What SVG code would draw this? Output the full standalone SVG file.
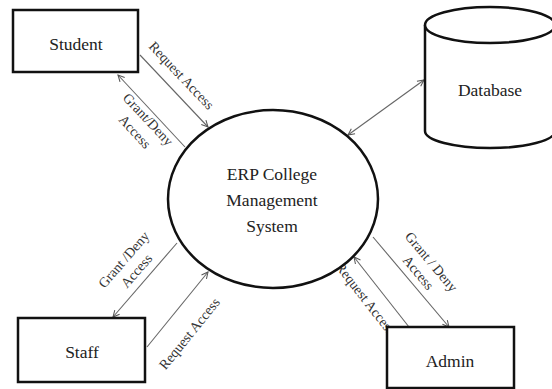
<svg xmlns="http://www.w3.org/2000/svg" width="552" height="389" viewBox="0 0 552 389" font-family="'Liberation Serif', 'Times New Roman', Tinos, 'DejaVu Serif', serif">
<style>
text{font-family:"Liberation Serif","Times New Roman",Tinos,"DejaVu Serif",serif}
.box{fill:#fff;stroke:#111;stroke-width:2.5}
.lbl{font-size:17.5px;fill:#222;text-anchor:middle}
.flow{font-size:14px;fill:#333;text-anchor:middle}
.conn{stroke:#666;stroke-width:1.1;fill:none}
</style>
<defs>
<marker id="arr" viewBox="0 0 10 10" refX="9" refY="5" markerWidth="8" markerHeight="8" markerUnits="userSpaceOnUse" orient="auto-start-reverse">
<path d="M1,1 L9,5 L1,9" fill="none" stroke="#555" stroke-width="1.3"/>
</marker>
</defs>
<rect width="552" height="389" fill="#fff"/>
<g id="connectors">
<line class="conn" x1="140" y1="55" x2="208" y2="127" marker-end="url(#arr)"/>
<line class="conn" x1="185" y1="147" x2="118" y2="75" marker-end="url(#arr)"/>
<line class="conn" x1="348" y1="135" x2="424" y2="80" marker-start="url(#arr)" marker-end="url(#arr)"/>
<line class="conn" x1="177" y1="243" x2="113" y2="317" marker-end="url(#arr)"/>
<line class="conn" x1="147" y1="347" x2="208" y2="272" marker-end="url(#arr)"/>
<line class="conn" x1="373" y1="237" x2="449" y2="327" marker-end="url(#arr)"/>
<line class="conn" x1="409" y1="327" x2="354" y2="257" marker-end="url(#arr)"/>
<text class="flow" transform="translate(181,76) rotate(46.6)" y="4">Request Access</text>
<g transform="translate(141,126) rotate(47)">
<text class="flow" x="0" y="-5">Grant/Deny</text>
<text class="flow" x="0" y="13">Access</text>
</g>
<g transform="translate(131,266) rotate(-49)">
<text class="flow" x="0" y="-5">Grant /Deny</text>
<text class="flow" x="0" y="12">Access</text>
</g>
<text class="flow" transform="translate(190,334) rotate(-51)" y="4">Request Access</text>
<g transform="translate(424,268) rotate(50)">
<text class="flow" x="0" y="-5">Grant / Deny</text>
<text class="flow" x="0" y="12">Access</text>
</g>
<text class="flow" transform="translate(365,299) rotate(52)" y="4">Request Access</text>
</g>
<g id="student">
<rect class="box" x="13" y="10" width="125" height="62"/>
<text class="lbl" x="76" y="50">Student</text>
</g>
<g id="database">
<path class="box" d="M425,25 L425,131 A65,17 0 0 0 555,131 L555,25"/>
<ellipse class="box" cx="490" cy="25" rx="65" ry="18"/>
<text class="lbl" x="490" y="96">Database</text>
</g>
<g id="erp">
<ellipse class="box" cx="273" cy="199" rx="105" ry="89"/>
<text class="lbl" x="272" y="180" font-size="18">ERP College</text>
<text class="lbl" x="272" y="206" font-size="18">Management</text>
<text class="lbl" x="272" y="232" font-size="18">System</text>
</g>
<g id="staff">
<rect class="box" x="18" y="318" width="127" height="64"/>
<text class="lbl" x="82" y="358">Staff</text>
</g>
<g id="admin">
<rect class="box" x="387" y="327" width="127" height="61"/>
<text class="lbl" x="450" y="367">Admin</text>
</g>
</svg>
